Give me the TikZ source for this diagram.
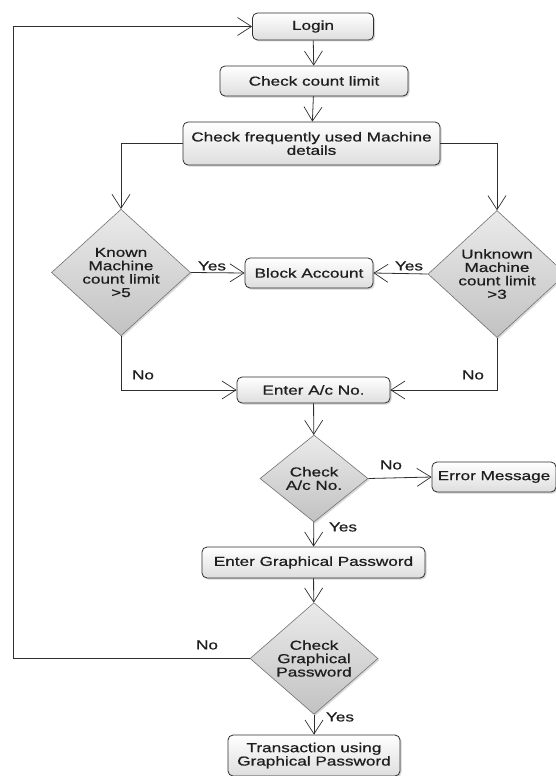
\documentclass[tikz,border=0pt]{standalone}
\usepackage{fontspec}
\setmainfont{Liberation Sans}[FakeStretch=1.32,FakeBold=0.7]
\usetikzlibrary{shapes.geometric,arrows.meta,shadows}
\definecolor{lncol}{HTML}{2E2E2E}
\definecolor{txcol}{HTML}{1E1E1E}
\tikzset{
  box/.style={rectangle, rounded corners=5pt, draw=lncol, line width=0.8pt,
    top color=white, bottom color=black!13, align=center, inner sep=2pt,
    drop shadow={opacity=0.35, shadow xshift=1.5pt, shadow yshift=-1.5pt}},
  dec/.style={diamond, draw=black!55, line width=0.6pt, inner sep=0pt,
    top color=black!8, bottom color=black!24, align=center,
    drop shadow={opacity=0.3, shadow xshift=1.5pt, shadow yshift=-1.5pt}},
  conn/.style={draw=lncol, line width=0.8pt,
    -{Straight Barb[length=14pt,width=18pt,line width=0.7pt]}},
  lbl/.style={inner sep=0pt, text=txcol},
}
\begin{document}
\begin{tikzpicture}[x=1pt,y=-1pt, font=\fontsize{13}{13.4}\selectfont, text=txcol]
\useasboundingbox (0,0) rectangle (556,776);
\begin{scope}
\clip (0,0) rectangle (556,776);
\node[box, minimum width=121pt, minimum height=27pt] (login) at (313,26.5) {Login};
\node[box, minimum width=188pt, minimum height=30pt] (count) at (314,81) {Check count limit};
\node[box, minimum width=257pt, minimum height=43pt] (freq) at (311.5,143.5) {Check frequently used Machine\\details};
\node[dec, minimum width=139pt, minimum height=109pt] (known) at (121,272.5) {Known\\Machine\\count limit\\>5};
\node[dec, minimum width=138pt, minimum height=112pt] (unknown) at (497,274) {Unknown\\Machine\\count limit\\>3};
\node[box, minimum width=128pt, minimum height=30pt] (block) at (309,273) {Block Account};
\node[box, minimum width=153pt, minimum height=26pt] (enter) at (313.5,390) {Enter A/c No.};
\node[dec, minimum width=108pt, minimum height=87pt] (checkac) at (314,478.5) {Check\\A/c No.};
\node[box, minimum width=124pt, minimum height=30pt] (error) at (494,477) {Error Message};
\node[box, minimum width=223pt, minimum height=31pt] (entergp) at (313.5,562.5) {Enter Graphical Password};
\node[dec, minimum width=128pt, minimum height=103pt] (checkgp) at (314,658.5) {Check\\Graphical\\Password};
\node[box, minimum width=172pt, minimum height=41pt] (trans) at (314,755.5) {Transaction using\\Graphical Password};

\coordinate (fl) at (121,143.5);
\coordinate (fr) at (497,143.5);
\coordinate (kl) at (121,390);
\coordinate (ul) at (497,390);
\coordinate (lb) at (13,658.5);
\coordinate (lt) at (13,26.5);

\draw[conn] (login) -- (count);
\draw[conn] (count) -- (freq);
\draw[conn] (freq.west) -- (fl) -- (known.north);
\draw[conn] (freq.east) -- (fr) -- (unknown.north);
\draw[conn] (known.east) -- (block.west);
\draw[conn] (unknown.west) -- (block.east);
\draw[conn] (known.south) -- (kl) -- (enter.west);
\draw[conn] (unknown.south) -- (ul) -- (enter.east);
\draw[conn] (enter) -- (checkac);
\draw[conn] (checkac.east) -- (error.west);
\draw[conn] (checkac) -- (entergp);
\draw[conn] (entergp) -- (checkgp);
\draw[conn] (checkgp.west) -- (lb) -- (lt) -- (login.west);
\draw[conn] (checkgp) -- (trans);

\node[lbl] (y1) at (212,266) {Yes};
\node[lbl] (y2) at (409,266) {Yes};
\node[lbl] (n1) at (143,375) {No};
\node[lbl] (n2) at (473,375) {No};
\node[lbl] (n3) at (391,465) {No};
\node[lbl] (y3) at (343,527) {Yes};
\node[lbl] (n4) at (207,645) {No};
\node[lbl] (y4) at (340,717) {Yes};
\end{scope}
\end{tikzpicture}
\end{document}
